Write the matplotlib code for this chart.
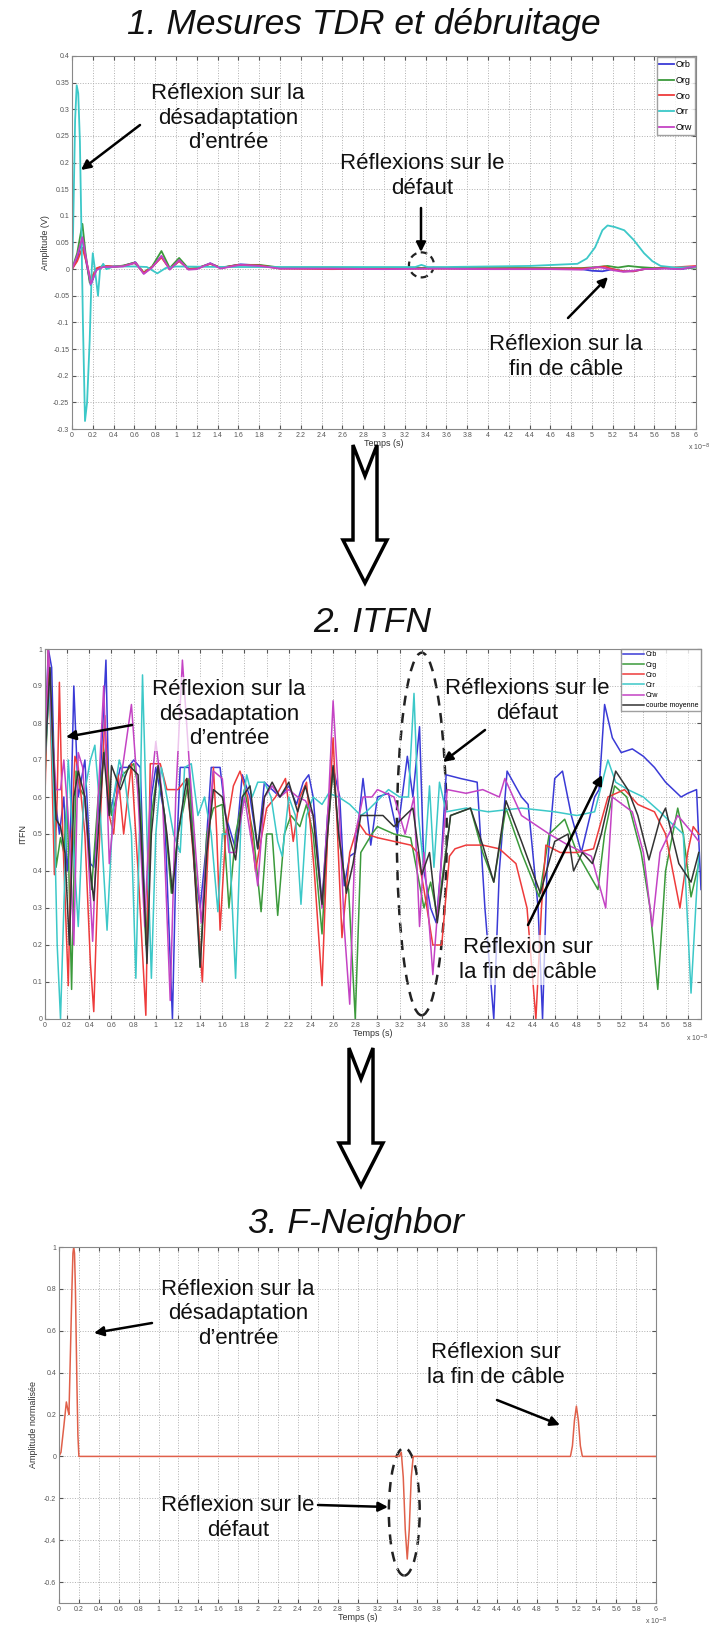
import matplotlib
matplotlib.use('Agg')
import matplotlib.pyplot as plt
from matplotlib.patches import Polygon, Ellipse

plt.rcParams['font.family'] = ['Liberation Sans', 'DejaVu Sans']

W, H = 710, 1627

# ---------------- 1. Mesures TDR (temps en x 10^-8 s) ----------------
tdr_labels = ['Orb', 'Org', 'Oro', 'Orr', 'Orw']

t_orb = [0, 0.05, 0.1, 0.14, 0.18, 0.235, 0.3, 0.39, 0.49, 0.61, 0.69, 0.77, 0.86, 0.94, 1.03, 1.12, 1.2,
         1.33, 1.43, 1.56, 1.62, 1.8, 2.0, 2.5, 3.0, 3.4, 4.0, 4.6, 4.9, 5.0, 5.1, 5.2, 5.3, 5.4, 5.5, 5.7, 5.85, 6.0]
v_orb = [0, 0.02, 0.058, 0.01, -0.03, 0.0, 0.005, 0.005, 0.006, 0.013, -0.008, 0.004, 0.024, 0.0, 0.016, 0.0,
         0.001, 0.011, 0.002, 0.007, 0.009, 0.007, 0.002, 0.002, 0.001, 0.002, 0.001, 0.001, 0.0, -0.003, -0.004,
         0.0, -0.004, -0.004, 0.0, 0.002, 0.0, 0.004]

t_org = [0, 0.05, 0.1, 0.13, 0.17, 0.23, 0.3, 0.4, 0.5, 0.6, 0.69, 0.77, 0.86, 0.94, 1.03, 1.12, 1.2, 1.33,
         1.43, 1.6, 1.8, 2.0, 2.5, 3.0, 3.5, 4.0, 4.6, 4.9, 5.05, 5.15, 5.25, 5.35, 5.45, 5.6, 5.8, 6.0]
v_org = [0, 0.03, 0.085, 0.03, -0.025, 0.0, 0.006, 0.004, 0.007, 0.012, -0.006, 0.005, 0.034, 0.002, 0.021,
         0.001, 0.002, 0.01, 0.003, 0.008, 0.008, 0.003, 0.003, 0.002, 0.002, 0.002, 0.002, 0.002, 0.004, 0.006,
         0.003, 0.006, 0.004, 0.002, 0.002, 0.003]

t_oro = [0, 0.05, 0.1, 0.14, 0.18, 0.24, 0.3, 0.4, 0.5, 0.61, 0.69, 0.77, 0.86, 0.94, 1.03, 1.12, 1.2, 1.33,
         1.43, 1.6, 1.8, 2.0, 2.5, 3.0, 3.5, 4.0, 4.6, 4.9, 5.05, 5.12, 5.2, 5.3, 5.4, 5.5, 5.7, 6.0]
v_oro = [0, 0.015, 0.04, 0.012, -0.02, 0.002, 0.006, 0.005, 0.006, 0.012, -0.007, 0.004, 0.022, 0.0, 0.015,
         0.0, 0.001, 0.01, 0.002, 0.008, 0.007, 0.001, 0.0, 0.001, 0.001, 0.001, 0.001, 0.001, 0.003, 0.005,
         0.0, -0.004, -0.004, 0.0, 0.002, 0.006]

t_orr = [0, 0.01, 0.03, 0.045, 0.06, 0.076, 0.09, 0.105, 0.125, 0.145, 0.17, 0.19, 0.2, 0.22, 0.25, 0.27, 0.3,
         0.33, 0.4, 0.6, 0.72, 0.82, 0.9, 1.0, 1.5, 2.0, 2.5, 3.0, 3.3, 3.36, 3.42, 3.6, 4.0, 4.4, 4.86, 4.95,
         5.03, 5.1, 5.15, 5.22, 5.31, 5.4, 5.5, 5.58, 5.66, 5.8, 6.0]
v_orr = [0, 0.066, 0.28, 0.345, 0.33, 0.24, 0.08, -0.1, -0.285, -0.25, -0.134, 0.0, 0.03, 0.0, -0.05, 0.0,
         0.01, 0.0, 0.005, 0.005, 0.004, -0.008, 0.002, 0.005, 0.004, 0.004, 0.004, 0.004, 0.004, 0.008, 0.004,
         0.004, 0.005, 0.006, 0.01, 0.02, 0.041, 0.073, 0.082, 0.079, 0.073, 0.055, 0.03, 0.015, 0.006, 0.003,
         0.004]

t_orw = [0, 0.05, 0.1, 0.14, 0.18, 0.235, 0.3, 0.39, 0.49, 0.61, 0.69, 0.77, 0.86, 0.94, 1.03, 1.12, 1.2,
         1.33, 1.43, 1.56, 1.62, 1.8, 2.0, 2.5, 3.0, 3.5, 4.0, 4.6, 4.9, 5.05, 5.12, 5.2, 5.3, 5.4, 5.5, 5.7,
         5.85, 6.0]
v_orw = [0, 0.025, 0.06, 0.015, -0.028, -0.002, 0.004, 0.004, 0.005, 0.012, -0.009, 0.003, 0.025, -0.001,
         0.017, -0.001, 0.0, 0.011, 0.001, 0.006, 0.008, 0.006, 0.001, 0.001, 0.0, 0.001, 0.0, 0.0, -0.001,
         0.004, 0.002, -0.002, -0.005, -0.003, 0.0, 0.001, 0.0, 0.005]

# ---------------- 2. ITFN ----------------
itfn_labels = ['Crb', 'Crg', 'Cro', 'Crr', 'Crw', 'courbe moyenne']

t_crb = [0, 0.03, 0.06, 0.09, 0.13, 0.17, 0.2, 0.23, 0.26, 0.3, 0.36, 0.41, 0.44, 0.49, 0.55, 0.58, 0.62,
         0.68, 0.75, 0.8, 0.86, 0.9, 0.92, 0.96, 1.0, 1.08, 1.15, 1.18, 1.22, 1.3, 1.35, 1.4, 1.45, 1.5, 1.58,
         1.63, 1.72, 1.78, 1.85, 1.92, 1.98, 2.05, 2.12, 2.2, 2.27, 2.33, 2.38, 2.42, 2.5, 2.55, 2.6, 2.66, 2.7,
         2.75, 2.8, 2.87, 2.94, 3.0, 3.1, 3.18, 3.27, 3.32, 3.38, 3.42, 3.48, 3.53, 3.57, 3.62, 3.75, 3.9, 3.97,
         4.05, 4.1, 4.17, 4.3, 4.36, 4.45, 4.49, 4.53, 4.6, 4.67, 4.75, 4.84, 4.96, 5.0, 5.05, 5.12, 5.2, 5.3,
         5.4, 5.5, 5.6, 5.74, 5.8, 5.88, 5.92]
v_crb = [0.75, 1.0, 0.95, 0.6, 0.5, 0.6, 0.4, 0.5, 0.9, 0.6, 0.7, 0.42, 0.41, 0.6, 0.97, 0.55, 0.6, 0.68,
         0.68, 0.7, 0.68, 0.3, 0.17, 0.6, 0.68, 0.55, 0.0, 0.4, 0.68, 0.68, 0.4, 0.3, 0.45, 0.68, 0.68, 0.55,
         0.46, 0.66, 0.6, 0.46, 0.64, 0.62, 0.6, 0.63, 0.58, 0.64, 0.66, 0.6, 0.31, 0.55, 0.68, 0.6, 0.36, 0.44,
         0.45, 0.65, 0.47, 0.6, 0.61, 0.5, 0.71, 0.6, 0.79, 0.4, 0.3, 0.26, 0.4, 0.66, 0.65, 0.64, 0.3, 0.0,
         0.4, 0.67, 0.6, 0.58, 0.3, 0.0, 0.4, 0.65, 0.67, 0.55, 0.45, 0.6, 0.62, 0.85, 0.76, 0.72, 0.73, 0.71,
         0.68, 0.64, 0.6, 0.61, 0.62, 0.35]

t_crg = [0, 0.04, 0.08, 0.1, 0.14, 0.17, 0.2, 0.24, 0.28, 0.32, 0.36, 0.42, 0.48, 0.55, 0.6, 0.7, 0.8, 0.86,
         0.91, 0.96, 1.02, 1.08, 1.14, 1.2, 1.25, 1.3, 1.36, 1.4, 1.46, 1.52, 1.6, 1.66, 1.72, 1.8, 1.88, 1.95,
         2.0, 2.05, 2.1, 2.16, 2.22, 2.3, 2.36, 2.42, 2.5, 2.55, 2.6, 2.65, 2.7, 2.74, 2.8, 2.85, 2.95, 3.0,
         3.15, 3.3, 3.42, 3.48, 3.54, 3.66, 3.84, 3.95, 4.05, 4.16, 4.3, 4.46, 4.55, 4.69, 4.8, 4.99, 5.05,
         5.14, 5.25, 5.38, 5.46, 5.53, 5.6, 5.71, 5.76, 5.83, 5.9]
v_crg = [0.65, 0.95, 0.7, 0.41, 0.49, 0.45, 0.6, 0.08, 0.67, 0.62, 0.6, 0.35, 0.6, 0.74, 0.55, 0.66, 0.69,
         0.6, 0.2, 0.55, 0.68, 0.55, 0.34, 0.5, 0.57, 0.65, 0.4, 0.14, 0.5, 0.57, 0.58, 0.3, 0.5, 0.62, 0.5,
         0.29, 0.5, 0.5, 0.28, 0.5, 0.55, 0.52, 0.58, 0.5, 0.23, 0.5, 0.68, 0.5, 0.38, 0.35, 0.0, 0.45, 0.5,
         0.52, 0.5, 0.49, 0.3, 0.37, 0.28, 0.55, 0.57, 0.45, 0.37, 0.57, 0.45, 0.33, 0.5, 0.54, 0.45, 0.35,
         0.5, 0.63, 0.6, 0.45, 0.3, 0.08, 0.4, 0.57, 0.5, 0.33, 0.42]

t_cro = [0, 0.03, 0.06, 0.085, 0.11, 0.13, 0.16, 0.21, 0.24, 0.27, 0.3, 0.36, 0.41, 0.44, 0.48, 0.54, 0.58,
         0.62, 0.66, 0.71, 0.78, 0.84, 0.91, 0.95, 1.04, 1.1, 1.2, 1.28, 1.35, 1.42, 1.47, 1.52, 1.55, 1.58,
         1.63, 1.7, 1.76, 1.83, 1.9, 2.0, 2.08, 2.17, 2.24, 2.3, 2.36, 2.43, 2.5, 2.55, 2.6, 2.64, 2.68, 2.75,
         2.83, 2.9, 3.0, 3.15, 3.3, 3.36, 3.42, 3.5, 3.58, 3.65, 3.7, 3.8, 3.95, 4.1, 4.25, 4.35, 4.43, 4.48,
         4.52, 4.65, 4.8, 4.95, 5.08, 5.23, 5.35, 5.5, 5.6, 5.73, 5.8, 5.85, 5.9]
v_cro = [0.6, 1.0, 0.7, 0.39, 0.6, 0.91, 0.5, 0.09, 0.5, 0.71, 0.68, 0.5, 0.15, 0.02, 0.4, 0.82, 0.55, 0.5,
         0.66, 0.5, 0.69, 0.4, 0.01, 0.69, 0.69, 0.62, 0.62, 0.65, 0.4, 0.1, 0.45, 0.68, 0.5, 0.24, 0.5, 0.63,
         0.67, 0.6, 0.4, 0.57, 0.6, 0.65, 0.48, 0.6, 0.64, 0.4, 0.09, 0.5, 0.76, 0.5, 0.22, 0.45, 0.53, 0.5,
         0.49, 0.48, 0.47, 0.45, 0.35, 0.2, 0.2, 0.44, 0.46, 0.47, 0.47, 0.46, 0.42, 0.3, 0.0, 0.3, 0.47, 0.45,
         0.45, 0.46, 0.6, 0.62, 0.58, 0.56, 0.5, 0.3, 0.45, 0.52, 0.5]

t_crr = [0, 0.04, 0.08, 0.11, 0.14, 0.17, 0.21, 0.25, 0.3, 0.35, 0.41, 0.45, 0.5, 0.56, 0.62, 0.67, 0.72,
         0.78, 0.82, 0.86, 0.88, 0.92, 0.96, 1.0, 1.05, 1.1, 1.16, 1.22, 1.26, 1.32, 1.38, 1.44, 1.5, 1.56, 1.6,
         1.66, 1.72, 1.77, 1.82, 1.87, 1.92, 1.98, 2.04, 2.1, 2.14, 2.2, 2.26, 2.31, 2.36, 2.42, 2.5, 2.56,
         2.65, 2.75, 2.85, 2.9, 3.0, 3.1, 3.2, 3.28, 3.33, 3.37, 3.42, 3.47, 3.51, 3.56, 3.62, 3.8, 4.0, 4.3,
         4.6, 4.8, 4.96, 5.08, 5.15, 5.26, 5.4, 5.55, 5.65, 5.76, 5.83, 5.9]
v_crr = [0.7, 0.9, 0.6, 0.2, 0.0, 0.3, 0.7, 0.5, 0.25, 0.6, 0.7, 0.74, 0.55, 0.24, 0.6, 0.7, 0.65, 0.5, 0.11,
         0.6, 0.93, 0.5, 0.11, 0.5, 0.68, 0.6, 0.5, 0.45, 0.68, 0.69, 0.55, 0.6, 0.5, 0.29, 0.5, 0.5, 0.11,
         0.55, 0.66, 0.6, 0.64, 0.64, 0.6, 0.48, 0.44, 0.6, 0.55, 0.31, 0.55, 0.6, 0.58, 0.61, 0.6, 0.58, 0.55,
         0.56, 0.59, 0.62, 0.6, 0.6, 0.88, 0.55, 0.4, 0.63, 0.41, 0.64, 0.56, 0.57, 0.56, 0.57, 0.56, 0.55,
         0.56, 0.7, 0.64, 0.62, 0.6, 0.56, 0.53, 0.5, 0.07, 0.45]

t_crw = [0, 0.03, 0.06, 0.1, 0.14, 0.17, 0.22, 0.26, 0.3, 0.34, 0.38, 0.43, 0.48, 0.53, 0.58, 0.62, 0.7,
         0.78, 0.84, 0.9, 0.95, 1.0, 1.06, 1.13, 1.18, 1.24, 1.3, 1.36, 1.41, 1.47, 1.52, 1.6, 1.66, 1.72, 1.8,
         1.88, 1.92, 1.98, 2.05, 2.12, 2.2, 2.28, 2.35, 2.42, 2.5, 2.56, 2.6, 2.65, 2.7, 2.75, 2.8, 2.87, 2.95,
         3.0, 3.15, 3.25, 3.33, 3.38, 3.42, 3.5, 3.57, 3.63, 3.8, 3.95, 4.1, 4.15, 4.3, 4.55, 4.72, 4.93, 5.06,
         5.12, 5.3, 5.4, 5.48, 5.55, 5.71, 5.85, 5.9]
v_crw = [0.7, 1.0, 0.8, 0.62, 0.62, 0.7, 0.5, 0.2, 0.72, 0.68, 0.5, 0.21, 0.6, 0.9, 0.42, 0.55, 0.68, 0.85,
         0.6, 0.25, 0.6, 0.75, 0.6, 0.05, 0.6, 0.97, 0.7, 0.45, 0.26, 0.5, 0.67, 0.65, 0.45, 0.45, 0.6, 0.45,
         0.36, 0.6, 0.63, 0.6, 0.62, 0.6, 0.59, 0.55, 0.3, 0.6, 0.86, 0.6, 0.25, 0.04, 0.5, 0.6, 0.6, 0.62,
         0.6, 0.5, 0.6, 0.25, 0.45, 0.12, 0.4, 0.62, 0.61, 0.62, 0.6, 0.65, 0.55, 0.5, 0.47, 0.44, 0.3, 0.6,
         0.56, 0.45, 0.25, 0.45, 0.55, 0.5, 0.48]

t_moy = [0, 0.045, 0.07, 0.1, 0.14, 0.18, 0.22, 0.26, 0.3, 0.36, 0.41, 0.44, 0.48, 0.53, 0.58, 0.6, 0.68,
         0.76, 0.84, 0.9, 0.92, 0.96, 1.02, 1.1, 1.15, 1.2, 1.28, 1.34, 1.4, 1.46, 1.52, 1.6, 1.66, 1.72, 1.78,
         1.85, 1.92, 1.98, 2.05, 2.12, 2.2, 2.28, 2.35, 2.42, 2.5, 2.55, 2.6, 2.65, 2.7, 2.72, 2.78, 2.85, 2.95,
         3.05, 3.15, 3.25, 3.32, 3.4, 3.47, 3.54, 3.6, 3.66, 3.84, 3.95, 4.05, 4.16, 4.3, 4.47, 4.6, 4.72, 4.77,
         4.85, 4.94, 5.02, 5.15, 5.26, 5.35, 5.45, 5.55, 5.6, 5.72, 5.83, 5.9]
v_moy = [0.7, 0.95, 0.75, 0.54, 0.52, 0.45, 0.2, 0.6, 0.67, 0.6, 0.4, 0.32, 0.5, 0.72, 0.55, 0.685, 0.62,
         0.685, 0.66, 0.3, 0.15, 0.5, 0.685, 0.5, 0.34, 0.5, 0.65, 0.45, 0.14, 0.45, 0.62, 0.6, 0.5, 0.43, 0.6,
         0.63, 0.46, 0.6, 0.64, 0.6, 0.64, 0.56, 0.63, 0.55, 0.31, 0.5, 0.685, 0.5, 0.39, 0.34, 0.42, 0.55,
         0.55, 0.55, 0.52, 0.55, 0.57, 0.39, 0.45, 0.26, 0.4, 0.55, 0.57, 0.47, 0.37, 0.59, 0.48, 0.34, 0.48,
         0.5, 0.4, 0.45, 0.42, 0.5, 0.67, 0.62, 0.55, 0.43, 0.54, 0.57, 0.42, 0.37, 0.45]

# ---------------- 3. F-Neighbor ----------------
t_fn = [0, 0.02, 0.05, 0.074, 0.09, 0.1, 0.12, 0.13, 0.14, 0.148, 0.156, 0.165, 0.18, 0.19, 0.2, 3.42,
        3.44, 3.46, 3.48, 3.5, 3.52, 3.54, 3.56, 3.58, 5.14, 5.16, 5.18, 5.2, 5.22, 5.24, 5.26, 6.0]
v_fn = [0, 0.02, 0.15, 0.26, 0.22, 0.2, 0.6, 0.8, 0.97, 1.0, 0.97, 0.8, 0.35, 0.1, 0.0, 0.0, 0.02, -0.1,
        -0.35, -0.49, -0.35, -0.1, 0.0, 0.0, 0.0, 0.05, 0.17, 0.24, 0.17, 0.05, 0.0, 0.0]

c_b, c_g, c_r, c_c, c_m, c_k = '#3a3ad6', '#3b9a3b', '#ee3b3b', '#3cc8c8', '#c443c4', '#333333'

fig = plt.figure(figsize=(W / 100, H / 100), dpi=100)


def make_ax(l, r, t, b):
    ax = fig.add_axes([l / W, 1 - b / H, (r - l) / W, (b - t) / H])
    ax.grid(True, linestyle=':', color='#b0b0b0', linewidth=0.7)
    ax.tick_params(direction='in', top=True, right=True, labelsize=5, colors='#555555', length=3, pad=2)
    for s in ax.spines.values():
        s.set_color('#888888')
    return ax


# plot 1
ax1 = make_ax(72, 696, 56, 429)
for t, v, c, lab in zip([t_orb, t_org, t_oro, t_orr, t_orw], [v_orb, v_org, v_oro, v_orr, v_orw],
                        [c_b, c_g, c_r, c_c, c_m], tdr_labels):
    ax1.plot(t, v, color=c, lw=1.3, label=lab)
ax1.set_xlim(0, 6)
ax1.set_ylim(-0.3, 0.4)
ax1.set_xticks([i / 5 for i in range(31)])
ax1.set_xticklabels(['%g' % (i / 5) for i in range(31)])
ax1.set_yticks([-0.3 + 0.05 * i for i in range(15)])
ax1.set_yticklabels(['%g' % round(-0.3 + 0.05 * i, 2) for i in range(15)])
ax1.set_xlabel('Temps (s)', fontsize=6.5, labelpad=0, color='#333333')
ax1.set_ylabel('Amplitude (V)', fontsize=6.5, labelpad=2, color='#333333')
ax1.legend(loc='upper right', fontsize=6.5, handlelength=1.6, labelspacing=0.75, borderaxespad=0.15,
           fancybox=False, edgecolor='#888888', handletextpad=0.2, borderpad=0.3)

# plot 2
ax2 = make_ax(45, 701, 649, 1019)
for t, v, c, lab in zip([t_crb, t_crg, t_cro, t_crr, t_crw, t_moy],
                        [v_crb, v_crg, v_cro, v_crr, v_crw, v_moy],
                        [c_b, c_g, c_r, c_c, c_m, c_k], itfn_labels):
    ax2.plot(t, v, color=c, lw=1.1, label=lab)
ax2.set_xlim(0, 5.92)
ax2.set_ylim(0, 1)
ax2.set_xticks([i / 5 for i in range(30)])
ax2.set_xticklabels(['%g' % (i / 5) for i in range(30)])
ax2.set_yticks([i / 10 for i in range(11)])
ax2.set_yticklabels(['%g' % (i / 10) for i in range(11)])
ax2.set_xlabel('Temps (s)', fontsize=6.5, labelpad=0, color='#333333')
ax2.set_ylabel('ITFN', fontsize=6.5, labelpad=4, color='#333333')
ax2.legend(loc='upper right', fontsize=5, handlelength=3, labelspacing=0.45, borderaxespad=0.05,
           fancybox=False, edgecolor='#888888', handletextpad=0.3, borderpad=0.3)

# plot 3
ax3 = make_ax(59, 656, 1247, 1603)
ax3.plot(t_fn, v_fn, color='#e0604a', lw=1.1)
ax3.set_xlim(0, 6)
ax3.set_ylim(-0.7, 1)
ax3.set_xticks([i / 5 for i in range(31)])
ax3.set_xticklabels(['%g' % (i / 5) for i in range(31)])
ax3.set_yticks([-0.6 + 0.2 * i for i in range(9)])
ax3.set_yticklabels(['%g' % round(-0.6 + 0.2 * i, 1) for i in range(9)])
ax3.set_xlabel('Temps (s)', fontsize=6.5, labelpad=0, color='#333333')
ax3.set_ylabel('Amplitude normalisée', fontsize=6.5, labelpad=4, color='#333333')

# dashed ellipses around the defect
ax1.add_patch(Ellipse((3.36, 0.008), 0.24, 0.047, fill=False, ls=(0, (3, 2)), lw=1.6, color='#222222'))
ax2.add_patch(Ellipse((3.4, 0.5), 0.45, 0.98, fill=False, ls=(0, (4, 3)), lw=1.8, color='#222222',
                      clip_on=False))
ax3.add_patch(Ellipse((3.47, -0.264), 0.31, 0.61, fill=False, ls=(0, (4, 3)), lw=1.8, color='#222222'))

# overlay in pixel coordinates for titles, notes, arrows
ov = fig.add_axes([0, 0, 1, 1], zorder=10)
ov.set_xlim(0, W)
ov.set_ylim(H, 0)
ov.axis('off')
ov.patch.set_alpha(0)

ttl = dict(fontsize=25.5, style='italic', ha='center', va='center', color='#111111')
ov.text(364, 24, '1. Mesures TDR et débruitage', **ttl)
ov.text(372, 622, '2. ITFN', **ttl)
ov.text(356, 1223, '3. F-Neighbor', **ttl)

note = dict(fontsize=16, ha='center', va='center', linespacing=1.2, color='#111111')
box = dict(facecolor='white', alpha=0.7, edgecolor='none', pad=2)
arr = dict(arrowstyle='-|>', color='black', lw=1.8, mutation_scale=14, shrinkA=0, shrinkB=0)


def note_arrow(tail, tip):
    ov.annotate('', xy=tip, xytext=tail, arrowprops=arr)


ov.text(228, 118, 'Réflexion sur la\ndésadaptation\nd\u2019entrée', **note)
note_arrow((140, 125), (81, 170))
ov.text(422, 176, 'Réflexions sur le\ndéfaut', **note)
note_arrow((421, 208), (421, 252))
ov.text(566, 357, 'Réflexion sur la\nfin de câble', **note)
note_arrow((568, 318), (608, 277))

ov.text(229, 714, 'Réflexion sur la\ndésadaptation\nd\u2019entrée', bbox=box, **note)
note_arrow((132, 725), (66, 737))
ov.text(527, 701, 'Réflexions sur le\ndéfaut', **note)
note_arrow((485, 730), (443, 762))
ov.text(528, 960, 'Réflexion sur\nla fin de câble', bbox=box, **note)
note_arrow((528, 925), (602, 775))

ov.text(238, 1314, 'Réflexion sur la\ndésadaptation\nd\u2019entrée', **note)
note_arrow((152, 1323), (94, 1333))
ov.text(238, 1518, 'Réflexion sur le\ndéfaut', **note)
note_arrow((318, 1505), (388, 1507))
ov.text(496, 1365, 'Réflexion sur\nla fin de câble', **note)
note_arrow((497, 1400), (560, 1425))

# exponent labels
ov.text(688, 447, 'x 10$^{-8}$', fontsize=5, color='#555555', ha='left', va='center')
ov.text(686, 1038, 'x 10$^{-8}$', fontsize=5, color='#555555', ha='left', va='center')
ov.text(645, 1621, 'x 10$^{-8}$', fontsize=5, color='#555555', ha='left', va='center')

# hollow block arrows between panels
for y0, cx in [(445, 365), (1048, 361)]:
    pts = [(cx - 12, y0), (cx, y0 + 31), (cx + 12, y0), (cx + 12, y0 + 95), (cx + 22, y0 + 95),
           (cx, y0 + 138), (cx - 22, y0 + 95), (cx - 12, y0 + 95)]
    ov.add_patch(Polygon(pts, closed=True, facecolor='white', edgecolor='black', lw=2.5))

fig.savefig('out.png', dpi=100)
